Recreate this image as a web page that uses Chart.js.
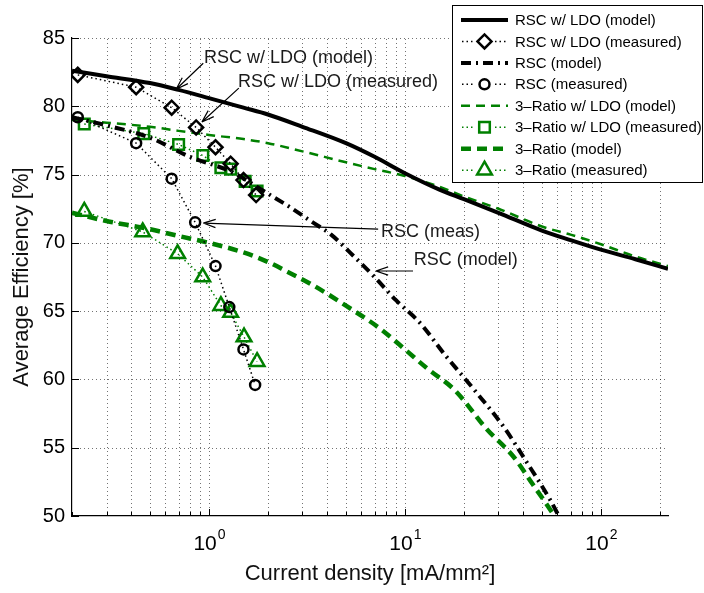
<!DOCTYPE html>
<html>
<head>
<meta charset="utf-8">
<script src="https://cdn.jsdelivr.net/npm/chart.js@4.4.1/dist/chart.umd.min.js"></script>
<style>
  html, body { margin: 0; padding: 0; background: #fff; }
</style>
</head>
<body>
<canvas id="myChart" width="704" height="593"></canvas>
<script>
const FONT = "'Liberation Sans', Arial, Helvetica, sans-serif";
const GREEN = '#008000';

// model curves (x in mA/mm^2, y in %)
const modelX = [0.2, 0.3, 0.5, 0.7, 1, 1.5, 2, 3, 5, 7, 10, 15, 20, 30, 50, 70, 100, 150, 220];
const rscLdoModel = [82.6, 82.2, 81.7, 81.2, 80.6, 79.9, 79.4, 78.5, 77.3, 76.3, 75.1, 73.9, 73.2, 72.2, 70.9, 70.2, 69.5, 68.8, 68.1];
const ratio3LdoModel = [79.0, 78.8, 78.5, 78.2, 77.9, 77.6, 77.3, 76.7, 75.9, 75.4, 74.9, 74.1, 73.4, 72.5, 71.2, 70.6, 69.9, 69.0, 68.3];

const rscModelX = [0.2, 0.3, 0.5, 0.8, 1.3, 2, 2.6, 3.3, 4.2, 5.5, 7, 9, 12, 16, 23, 32, 42, 55, 62];
const rscModel = [79.2, 78.6, 77.7, 76.3, 75.2, 73.6, 72.6, 71.6, 70.6, 69.0, 67.5, 65.8, 64.1, 61.8, 59.1, 56.5, 53.9, 51.2, 49.8];

const ratio3ModelX = [0.2, 0.3, 0.5, 0.7, 1, 1.5, 2, 2.5, 3.3, 5, 7.5, 10, 13, 18, 26, 36, 45, 52, 58];
const ratio3Model = [72.2, 71.6, 71.0, 70.5, 70.0, 69.3, 68.6, 67.9, 67.0, 65.4, 63.7, 62.2, 60.8, 59.2, 56.4, 54.3, 52.3, 51.0, 50.0];

// measured points
const rscLdoMeasX = [0.214, 0.425, 0.645, 0.86, 1.08, 1.29, 1.5, 1.74];
const rscLdoMeas = [82.3, 81.4, 79.9, 78.45, 77.0, 75.8, 74.6, 73.5];
const rscMeasX = [0.214, 0.425, 0.645, 0.85, 1.08, 1.27, 1.5, 1.72];
const rscMeas = [79.2, 77.3, 74.7, 71.5, 68.3, 65.3, 62.2, 59.6];
const ratio3LdoMeasX = [0.231, 0.465, 0.70, 0.93, 1.15, 1.29, 1.53, 1.76];
const ratio3LdoMeas = [78.7, 78.0, 77.2, 76.4, 75.5, 75.4, 74.5, 73.8];
const ratio3MeasX = [0.231, 0.459, 0.692, 0.929, 1.15, 1.29, 1.51, 1.76];
const ratio3Meas = [72.3, 70.8, 69.2, 67.5, 65.4, 64.9, 63.1, 61.3];

// axis ticks
const xLabelValues = [1, 10, 100];
const yTickValues = [50, 55, 60, 65, 70, 75, 80, 85];

// callouts: text position, arrow tail and arrow tip, all in data units
const callouts = [
  { text: 'RSC w/ LDO (model)', at: [0.943, 83.53], from: [0.935, 83.15], to: [0.68, 81.25] },
  { text: 'RSC w/ LDO (measured)', at: [1.406, 81.77], from: [1.42, 81.33], to: [0.92, 78.85] },
  { text: 'RSC (meas)', at: [7.54, 70.79], from: [7.3, 71.0], to: [0.935, 71.45] },
  { text: 'RSC (model)', at: [11.1, 68.74], from: [11.0, 67.94], to: [7.1, 67.94] },
];

function pts(xs, ys) {
  return xs.map((x, i) => ({ x: x, y: ys[i] }));
}

// grid values on the log axis: 1..9 within each decade
function logGridValues(min, max) {
  const out = [];
  for (let e = -1; e <= 2; e++) {
    for (let m = 1; m <= 9; m++) {
      const v = +(m * Math.pow(10, e)).toPrecision(3);
      if (v >= min - 1e-9 && v <= max + 1e-9) out.push(v);
    }
  }
  return out;
}

const gridPlugin = {
  id: 'gridPlugin',
  beforeDatasetsDraw(chart) {
    const { ctx, chartArea: a, scales: { x, y } } = chart;
    const xs = logGridValues(x.min, x.max);
    ctx.save();
    ctx.strokeStyle = 'rgba(0,0,0,0.55)';
    ctx.lineWidth = 1;
    ctx.setLineDash([1, 3]);
    xs.forEach((v) => {
      const px = Math.round(x.getPixelForValue(v)) + 0.5;
      if (px <= a.left + 1) return;
      ctx.beginPath();
      ctx.moveTo(px, a.bottom);
      ctx.lineTo(px, a.top);
      ctx.stroke();
    });
    yTickValues.forEach((v) => {
      if (v === y.min) return;
      const py = Math.round(y.getPixelForValue(v)) + 0.5;
      ctx.beginPath();
      ctx.moveTo(a.left, py);
      ctx.lineTo(a.right, py);
      ctx.stroke();
    });
    // inward tick marks
    ctx.setLineDash([]);
    ctx.strokeStyle = '#000';
    xs.forEach((v) => {
      const px = Math.round(x.getPixelForValue(v)) + 0.5;
      const len = xLabelValues.includes(v) ? 7 : 4;
      ctx.beginPath();
      ctx.moveTo(px, a.bottom);
      ctx.lineTo(px, a.bottom - len);
      ctx.stroke();
    });
    yTickValues.forEach((v) => {
      const py = Math.round(y.getPixelForValue(v)) + 0.5;
      ctx.beginPath();
      ctx.moveTo(a.left, py);
      ctx.lineTo(a.left + 7, py);
      ctx.stroke();
    });
    ctx.restore();
  },
};

const labelPlugin = {
  id: 'labelPlugin',
  afterDraw(chart) {
    const { ctx, chartArea: a, scales: { x, y } } = chart;
    ctx.save();
    ctx.fillStyle = '#000';
    ctx.textBaseline = 'alphabetic';
    ctx.textAlign = 'left';

    // 10^n labels under the log axis
    xLabelValues.forEach((v) => {
      const px = x.getPixelForValue(v);
      const exp = String(Math.round(Math.log10(v)));
      ctx.font = '21px ' + FONT;
      const wBase = ctx.measureText('10').width;
      ctx.font = '14px ' + FONT;
      const wExp = ctx.measureText(exp).width;
      const left = px - (wBase + wExp) / 2;
      ctx.font = '21px ' + FONT;
      ctx.fillText('10', left, a.bottom + 34);
      ctx.font = '14px ' + FONT;
      ctx.fillText(exp, left + wBase + 1, a.bottom + 23);
    });

    // callout arrows and text
    ctx.strokeStyle = '#000';
    ctx.lineWidth = 1.2;
    callouts.forEach((c) => {
      const x0 = x.getPixelForValue(c.from[0]);
      const y0 = y.getPixelForValue(c.from[1]);
      const x1 = x.getPixelForValue(c.to[0]);
      const y1 = y.getPixelForValue(c.to[1]);
      ctx.beginPath();
      ctx.moveTo(x0, y0);
      ctx.lineTo(x1, y1);
      const ang = Math.atan2(y0 - y1, x0 - x1);
      const head = 13;
      [0.32, -0.32].forEach((d) => {
        ctx.moveTo(x1, y1);
        ctx.lineTo(x1 + head * Math.cos(ang + d), y1 + head * Math.sin(ang + d));
      });
      ctx.stroke();
      ctx.font = '18px ' + FONT;
      ctx.textBaseline = 'middle';
      ctx.fillStyle = '#1a1a1a';
      ctx.fillText(c.text, x.getPixelForValue(c.at[0]), y.getPixelForValue(c.at[1]));
    });

    // legend box
    const bx = 452.5, by = 5.5, bw = 250, bh = 177;
    ctx.fillStyle = '#fff';
    ctx.fillRect(bx, by, bw, bh);
    ctx.lineWidth = 1;
    ctx.strokeStyle = '#000';
    ctx.strokeRect(bx, by, bw, bh);
    chart.data.datasets.forEach((ds, i) => {
      const cy = 20 + i * 21.45;
      ctx.save();
      ctx.strokeStyle = ds.borderColor;
      ctx.lineWidth = ds.borderWidth;
      ctx.setLineDash(ds.borderDash || []);
      ctx.beginPath();
      if (ds.pointRadius > 0) {
        ctx.moveTo(462, cy);
        ctx.lineTo(474, cy);
        ctx.moveTo(495, cy);
        ctx.lineTo(508, cy);
      } else {
        ctx.moveTo(461, cy);
        ctx.lineTo(508, cy);
      }
      ctx.stroke();
      ctx.setLineDash([]);
      if (ds.pointRadius > 0) {
        ctx.fillStyle = '#fff';
        ctx.strokeStyle = ds.pointBorderColor;
        ctx.lineWidth = ds.pointBorderWidth;
        Chart.helpers.drawPoint(ctx, {
          pointStyle: ds.pointStyle,
          radius: ds.pointRadius,
          borderWidth: ds.pointBorderWidth,
          rotation: 0,
        }, 484.5, cy);
      }
      ctx.restore();
      ctx.fillStyle = '#000';
      ctx.font = '15px ' + FONT;
      ctx.textBaseline = 'middle';
      ctx.fillText(ds.label, 515, cy + 1);
    });
    ctx.restore();
  },
};

function modelSet(label, data, color, width, dash) {
  return {
    label: label,
    data: data,
    borderColor: color,
    borderWidth: width,
    borderDash: dash,
    pointRadius: 0,
    cubicInterpolationMode: 'monotone',
    fill: false,
  };
}

function measSet(label, data, color, style, radius) {
  return {
    label: label,
    data: data,
    borderColor: color,
    borderWidth: 1.5,
    borderDash: [1.5, 3],
    pointStyle: style,
    pointRadius: radius,
    pointBorderWidth: 2.5,
    pointBorderColor: color,
    pointBackgroundColor: 'rgba(0,0,0,0)',
    fill: false,
  };
}

const datasets = [
  modelSet('RSC w/ LDO (model)', pts(modelX, rscLdoModel), '#000', 4, []),
  measSet('RSC w/ LDO (measured)', pts(rscLdoMeasX, rscLdoMeas), '#000', 'rectRot', 7),
  modelSet('RSC (model)', pts(rscModelX, rscModel), '#000', 4, [10, 5, 2, 5]),
  measSet('RSC (measured)', pts(rscMeasX, rscMeas), '#000', 'circle', 5),
  modelSet('3\u2013Ratio w/ LDO (model)', pts(modelX, ratio3LdoModel), GREEN, 2.5, [9, 6]),
  measSet('3\u2013Ratio w/ LDO (measured)', pts(ratio3LdoMeasX, ratio3LdoMeas), GREEN, 'rect', 7.5),
  modelSet('3\u2013Ratio (model)', pts(ratio3ModelX, ratio3Model), GREEN, 4.5, [10, 6]),
  measSet('3\u2013Ratio (measured)', pts(ratio3MeasX, ratio3Meas), GREEN, 'triangle', 8.5),
];

Chart.defaults.font.family = FONT;

const chart = new Chart(document.getElementById('myChart'), {
  type: 'line',
  data: { datasets: datasets },
  options: {
    responsive: false,
    animation: false,
    devicePixelRatio: 1,
    layout: { padding: { top: 38, right: 36, left: 0, bottom: 0 } },
    plugins: { legend: { display: false }, tooltip: { enabled: false } },
    scales: {
      x: {
        type: 'logarithmic',
        min: 0.2,
        max: 220,
        grid: { display: false, drawTicks: false },
        border: { display: true, color: '#000', width: 1.2 },
        ticks: { display: false },
        title: {
          display: true,
          text: 'Current density [mA/mm\u00b2]',
          color: '#111',
          font: { size: 22 },
          padding: { top: 0, bottom: 6 },
        },
        afterFit(scale) { scale.height = 77; },
      },
      y: {
        min: 50,
        max: 85,
        grid: { display: false, drawTicks: false },
        border: { display: true, color: '#000', width: 1.2 },
        ticks: { stepSize: 5, color: '#000', font: { size: 20 }, padding: 7 },
        title: {
          display: true,
          text: 'Average Efficiency [%]',
          color: '#111',
          font: { size: 22 },
          padding: { top: 9, bottom: 0 },
        },
        afterFit(scale) { scale.width = 72; },
      },
    },
  },
  plugins: [gridPlugin, labelPlugin],
});
</script>
</body>
</html>
